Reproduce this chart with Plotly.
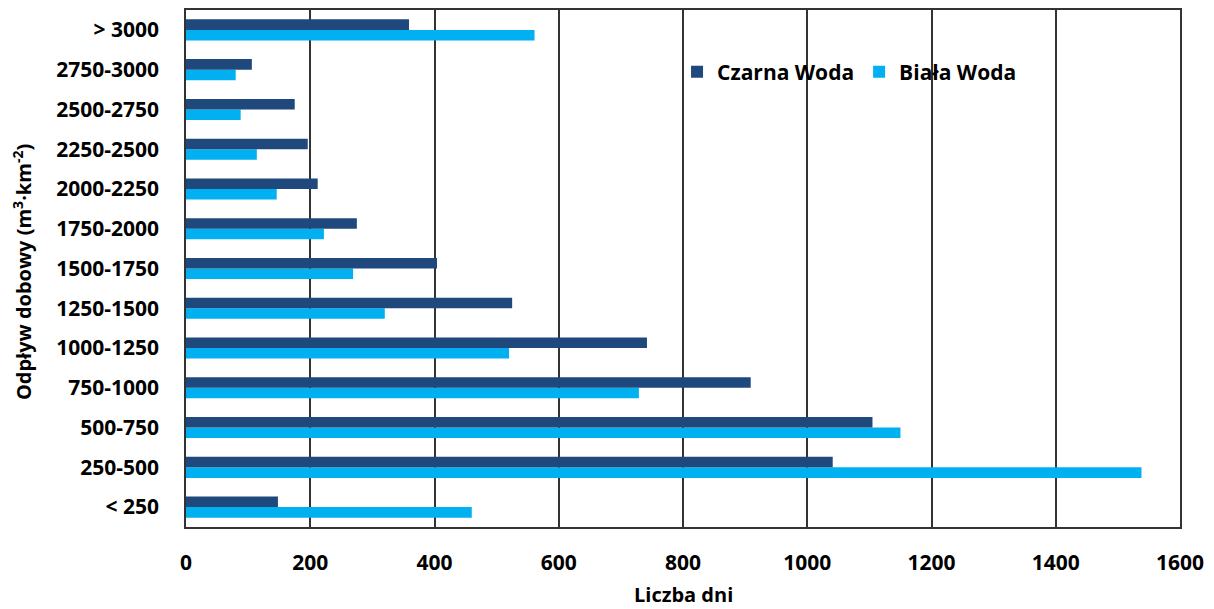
import plotly.graph_objects as go

categories = ["< 250", "250-500", "500-750", "750-1000", "1000-1250", "1250-1500",
              "1500-1750", "1750-2000", "2000-2250", "2250-2500", "2500-2750",
              "2750-3000", "> 3000"]
czarna_woda = [148, 1041, 1105, 909, 742, 525, 404, 275, 212, 196, 175, 106, 359]
biala_woda = [460, 1538, 1150, 729, 520, 320, 269, 222, 146, 114, 88, 80, 561]
x_ticks = [0, 200, 400, 600, 800, 1000, 1200, 1400, 1600]

font_family = "Open Sans, Liberation Sans, sans-serif"
FS = 21

fig = go.Figure()
fig.add_trace(go.Bar(y=categories, x=biala_woda, orientation="h", name="Biała Woda",
                     marker=dict(color="#00B0F0", line=dict(width=0))))
fig.add_trace(go.Bar(y=categories, x=czarna_woda, orientation="h", name="Czarna Woda",
                     marker=dict(color="#1F497D", line=dict(width=0))))

fig.update_layout(
    width=1198, height=601,
    margin=dict(l=178, r=26, t=2, b=82),
    paper_bgcolor="white", plot_bgcolor="white",
    barmode="group", bargap=0.47, bargroupgap=0,
    font=dict(family=font_family, size=FS, color="black"),
    legend=dict(orientation="h", x=0.494, y=0.88, xanchor="left", yanchor="middle",
                traceorder="reversed", font=dict(size=FS, weight="bold"),
                bgcolor="rgba(0,0,0,0)", itemwidth=30),
    xaxis=dict(range=[0, 1600], tickvals=x_ticks, ticktext=[str(v) for v in x_ticks],
               showgrid=True, gridcolor="#333333", gridwidth=1.5,
               showline=True, linecolor="#333333", linewidth=1.5, mirror=True,
               zeroline=False, ticks="", ticklen=0, automargin=False,
               tickfont=dict(size=FS, weight="bold"), ticklabelstandoff=16),
    yaxis=dict(type="category", categoryorder="array", categoryarray=categories,
               showgrid=False, showline=True, linecolor="#333333", linewidth=1.5, mirror=True,
               ticks="", tickfont=dict(size=FS, weight="bold"), ticklabelstandoff=21,
               automargin=False),
    annotations=[
        dict(text="<b>Liczba dni</b>", xref="paper", yref="paper", x=0.5, y=-0.1296,
             xanchor="center", yanchor="middle", showarrow=False,
             font=dict(size=20, family=font_family, color="black")),
        dict(text="<b>Odpływ dobowy (m<sup>3</sup>·km<sup>-2</sup>)</b>", xref="paper", yref="paper",
             x=-0.165, y=0.493, xanchor="center", yanchor="middle", textangle=-90,
             showarrow=False, font=dict(size=20, family=font_family, color="black")),
    ],
)

fig.write_html("out.html")
